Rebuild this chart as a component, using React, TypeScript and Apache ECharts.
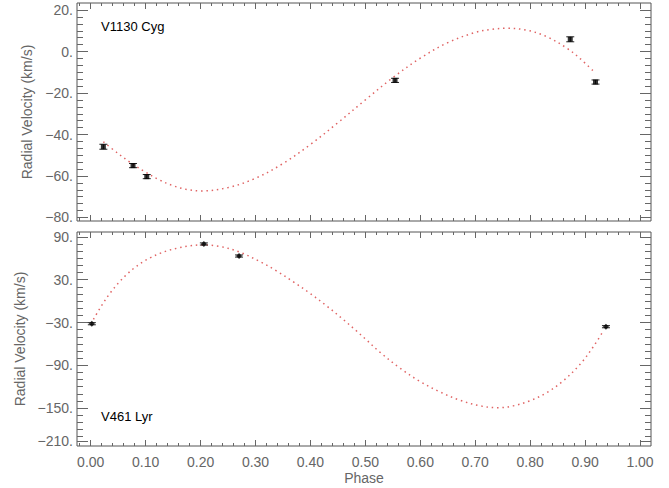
import React, { useEffect, useRef } from "react";
import * as echarts from "echarts";

// ---- tick labels ----
const xMajorTicks = [0, 0.1, 0.2, 0.3, 0.4, 0.5, 0.6, 0.7, 0.8, 0.9, 1.0];
const topYTicks = [20, 0, -20, -40, -60, -80];
const bottomYTicks = [90, 30, -30, -90, -150, -210];

// ---- V1130 Cyg (top panel) ----
const v1130CurvePhase = [0.023, 0.05, 0.075, 0.1, 0.125, 0.15, 0.175, 0.2, 0.25, 0.3, 0.35, 0.4, 0.45, 0.5, 0.55, 0.6, 0.65, 0.7, 0.73, 0.757, 0.794, 0.83, 0.867, 0.891, 0.918];
const v1130CurveRV = [-43.5, -49.2, -54.0, -58.2, -61.9, -64.7, -66.5, -67.2, -65.6, -61.1, -54.0, -44.8, -34.3, -23.3, -12.6, -3.2, 4.3, 9.2, 10.7, 11.2, 10.3, 7.2, 1.6, -3.4, -10.2];
const v1130Phase = [0.023, 0.077, 0.102, 0.554, 0.873, 0.919];
const v1130RV = [-45.9, -55.0, -60.3, -13.9, 5.9, -14.7];
const v1130Err = [1.2, 1.0, 1.0, 1.0, 1.2, 1.0];

// ---- V461 Lyr (bottom panel) ----
const v461CurvePhase = [0.005, 0.02, 0.035, 0.05, 0.065, 0.08, 0.096, 0.11, 0.126, 0.14, 0.157, 0.18, 0.199, 0.235, 0.272, 0.308, 0.338, 0.369, 0.399, 0.43, 0.46, 0.484, 0.5, 0.527, 0.563, 0.6, 0.636, 0.672, 0.709, 0.742, 0.769, 0.8, 0.83, 0.86, 0.891, 0.915, 0.933];
const v461CurveRV = [-25.5, -6.0, 11.0, 25.0, 37.0, 47.0, 55.5, 61.5, 67.0, 70.8, 74.2, 77.5, 78.8, 76.8, 68.5, 55.5, 42.5, 27.0, 11.0, -7.0, -26.0, -42.0, -53.0, -72.0, -94.0, -113.0, -127.5, -139.0, -147.0, -149.6, -147.0, -139.7, -128.5, -112.0, -88.5, -64.0, -42.0];
const v461Phase = [0.002, 0.206, 0.27, 0.938];
const v461RV = [-31.7, 80.2, 63.3, -35.9];
const v461Err = [1.5, 1.5, 1.5, 1.5];

// ---- axis extents ----
const xMin = -0.025;
const xMax = 1.02;
const topYMin = -81.7;
const topYMax = 23.4;
const bottomYMin = -203.3;
const bottomYMax = 97.0;
const bottomLastTickAt = -196.3; // where the "-210." tick sits in the picture

const FONT = "Liberation Sans, Arial, sans-serif";
const GRAY = "#666";
const FRAME = "#555";
const CURVE = "#e06464";

function r(v: number) {
  return Math.round(v * 10000) / 10000;
}

const xMinorTicks: number[] = [];
for (let i = -1; i <= 50; i++) {
  const v = r(i * 0.02);
  if (v > xMin && v < xMax && i % 5 !== 0) xMinorTicks.push(v);
}
const topYMinor: number[] = [];
for (let i = -30; i <= 6; i++) {
  const v = r((i * 10) / 3);
  if (v > topYMin && v < topYMax - 0.5 && i % 6 !== 0) topYMinor.push(v);
}
const bottomYMinor: number[] = [];
for (let v = 90; v > bottomLastTickAt; v -= 10) {
  if ((90 - v) % 60 !== 0) bottomYMinor.push(v);
}
const bottomYPositions = bottomYTicks.map((v) => (v === -210 ? bottomLastTickAt : v));

function fmtY(v: number) {
  return (v < 0 ? "\u2212" : "") + Math.abs(v) + ".";
}

function pairs(a: number[], b: number[]) {
  return a.map((x, i) => [x, b[i]]);
}
function errData(a: number[], b: number[], e: number[]) {
  return a.map((x, i) => [x, b[i], e[i]]);
}

function errRender(params: any, api: any) {
  const x = api.value(0);
  const y = api.value(1);
  const e = api.value(2);
  const hi = api.coord([x, y + e]);
  const lo = api.coord([x, y - e]);
  const hw = 4;
  const style = { stroke: "#222", lineWidth: 1 };
  return {
    type: "group",
    children: [
      { type: "line", shape: { x1: hi[0], y1: hi[1], x2: lo[0], y2: lo[1] }, style },
      { type: "line", shape: { x1: hi[0] - hw, y1: hi[1], x2: hi[0] + hw, y2: hi[1] }, style },
      { type: "line", shape: { x1: lo[0] - hw, y1: lo[1], x2: lo[0] + hw, y2: lo[1] }, style },
    ],
  };
}

function xAxes(gridIndex: number, withLabels: boolean) {
  const base = {
    type: "value",
    gridIndex,
    min: xMin,
    max: xMax,
    splitLine: { show: false },
    axisLine: { show: false, onZero: false },
  };
  const mk = (position: string, vals: number[], len: number, labels: boolean) => ({
    ...base,
    position,
    axisTick: { show: true, inside: true, length: len, customValues: vals, lineStyle: { color: GRAY } },
    axisLabel: labels
      ? {
          show: true,
          customValues: xMajorTicks,
          formatter: (v: number) => v.toFixed(2),
          color: GRAY,
          fontSize: 14,
          fontFamily: FONT,
          margin: 9,
        }
      : { show: false },
    ...(labels
      ? {
          name: "Phase",
          nameLocation: "middle",
          nameGap: 25,
          nameTextStyle: { color: GRAY, fontSize: 14, fontFamily: FONT },
        }
      : {}),
  });
  return [
    mk("bottom", xMajorTicks, 6, withLabels),
    mk("bottom", xMinorTicks, 3, false),
    mk("top", xMajorTicks, 6, false),
    mk("top", xMinorTicks, 3, false),
  ];
}

function yAxes(gridIndex: number, min: number, max: number, majors: number[], minors: number[], fmt: (v: number) => string) {
  const base = {
    type: "value",
    gridIndex,
    min,
    max,
    splitLine: { show: false },
    axisLine: { show: false, onZero: false },
  };
  const mk = (position: string, vals: number[], len: number, labels: boolean) => ({
    ...base,
    position,
    axisTick: { show: true, inside: true, length: len, customValues: vals, lineStyle: { color: GRAY } },
    axisLabel: labels
      ? {
          show: true,
          customValues: majors,
          formatter: fmt,
          color: GRAY,
          fontSize: 14,
          fontFamily: FONT,
          margin: 4,
        }
      : { show: false },
    ...(labels
      ? {
          name: "Radial Velocity (km/s)",
          nameLocation: "middle",
          nameGap: 37,
          nameTextStyle: { color: GRAY, fontSize: 14, fontFamily: FONT },
        }
      : {}),
  });
  return [
    mk("left", majors, 11, true),
    mk("left", minors, 6, false),
    mk("right", majors, 11, false),
    mk("right", minors, 6, false),
  ];
}

export default function App() {
  const ref = useRef<HTMLDivElement>(null);
  useEffect(() => {
    if (!ref.current) return;
    const chart = echarts.init(ref.current, null, { renderer: "svg" });
    const bottomFmt = (v: number) => {
      let idx = -1;
      bottomYPositions.forEach((p, i) => {
        if (Math.abs(p - v) < 1e-6) idx = i;
      });
      return idx >= 0 ? fmtY(bottomYTicks[idx]) : "";
    };
    const option: any = {
      animation: false,
      backgroundColor: "#fff",
      grid: [
        { left: 77, right: 18, top: 3, height: 218, show: true, borderColor: FRAME, borderWidth: 1, backgroundColor: "transparent" },
        { left: 77, right: 18, top: 232, height: 214, show: true, borderColor: FRAME, borderWidth: 1, backgroundColor: "transparent" },
      ],
      xAxis: [...xAxes(0, false), ...xAxes(1, true)],
      yAxis: [
        ...yAxes(0, topYMin, topYMax, topYTicks, topYMinor, fmtY),
        ...yAxes(1, bottomYMin, bottomYMax, bottomYPositions, bottomYMinor, bottomFmt),
      ],
      series: [
        {
          type: "line",
          xAxisIndex: 0,
          yAxisIndex: 0,
          data: pairs(v1130CurvePhase, v1130CurveRV),
          showSymbol: false,
          smooth: 0.35,
          lineStyle: { color: CURVE, width: 1.5, type: [1.5, 3.8] },
          z: 2,
        },
        {
          type: "custom",
          xAxisIndex: 0,
          yAxisIndex: 0,
          data: errData(v1130Phase, v1130RV, v1130Err),
          renderItem: errRender,
          z: 3,
        },
        {
          type: "scatter",
          xAxisIndex: 0,
          yAxisIndex: 0,
          data: pairs(v1130Phase, v1130RV),
          symbol: "rect",
          symbolSize: 5,
          itemStyle: { color: "#000" },
          z: 4,
        },
        {
          type: "line",
          xAxisIndex: 4,
          yAxisIndex: 4,
          data: pairs(v461CurvePhase, v461CurveRV),
          showSymbol: false,
          smooth: 0.35,
          lineStyle: { color: CURVE, width: 1.5, type: [1.5, 3.8] },
          z: 2,
        },
        {
          type: "custom",
          xAxisIndex: 4,
          yAxisIndex: 4,
          data: errData(v461Phase, v461RV, v461Err),
          renderItem: errRender,
          z: 3,
        },
        {
          type: "scatter",
          xAxisIndex: 4,
          yAxisIndex: 4,
          data: pairs(v461Phase, v461RV),
          symbol: "diamond",
          symbolSize: 6,
          itemStyle: { color: "#000" },
          z: 4,
        },
      ],
      graphic: [
        {
          type: "text",
          left: 101,
          top: 20,
          style: { text: "V1130 Cyg", fill: "#000", fontSize: 13, fontFamily: FONT },
        },
        {
          type: "text",
          left: 101,
          top: 410,
          style: { text: "V461 Lyr", fill: "#000", fontSize: 13, fontFamily: FONT },
        },
      ],
    };
    chart.setOption(option);
    return () => chart.dispose();
  }, []);
  return (
    <div
      ref={ref}
      style={{ position: "fixed", left: 0, top: 0, width: 669, height: 488, background: "#fff" }}
    />
  );
}
